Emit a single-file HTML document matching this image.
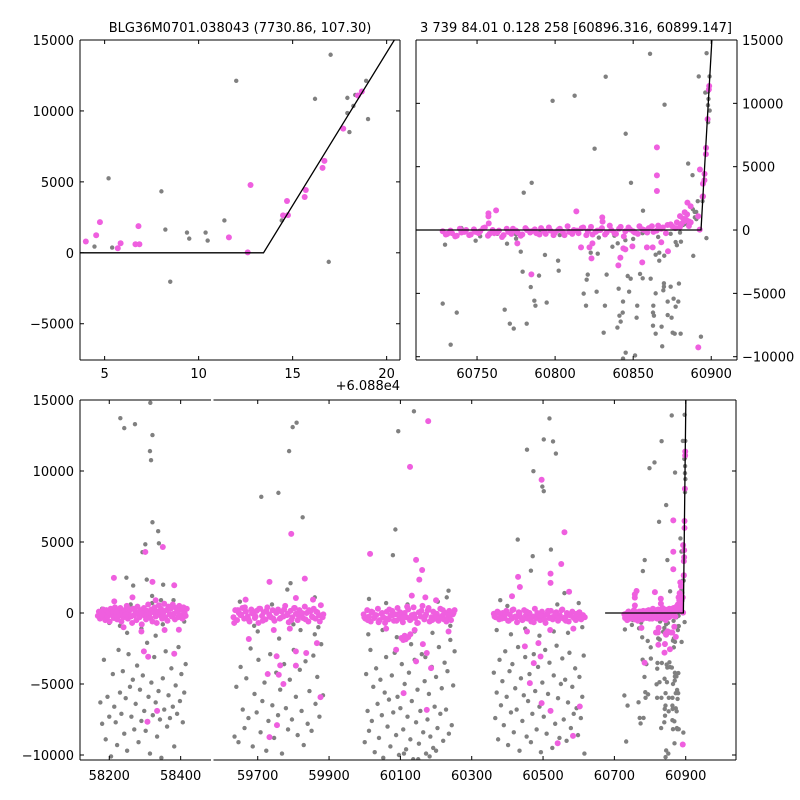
<!DOCTYPE html>
<html><head><meta charset="utf-8"><title>BLG36M0701.038043 light curve</title>
<style>
html,body{margin:0;padding:0;background:#fff;}
svg{display:block;font-family:"DejaVu Sans","Liberation Sans",sans-serif;}
</style></head>
<body>
<svg id="chart" width="800" height="800" viewBox="0 0 800 800">
<rect x="0" y="0" width="800" height="800" fill="#fff"/>
<text x="240" y="32" font-size="13" text-anchor="middle">BLG36M0701.038043 (7730.86, 107.30)</text>
<text x="576" y="32" font-size="13" text-anchor="middle">3 739 84.01 0.128 258 [60896.316, 60899.147]</text>
<text x="400" y="390" font-size="13" text-anchor="end">+6.088e4</text>
</svg>
<script>
// ---------------- data ----------------
const finalGray=[[60884.46,440],[60885.21,5250],[60885.40,370],[60888.02,4330],[60888.23,1640],[60888.49,-2040],[60889.38,1430],[60889.50,1000],[60890.37,1430],[60890.48,860],[60891.37,2280],[60892.0,12120],[60894.42,2280],[60896.19,10850],[60896.92,-640],[60897.02,13960],[60897.91,10920],[60897.91,9850],[60898.02,8510],[60898.23,10350],[60898.33,11130],[60898.91,12120],[60899.01,9430],
[60860.8,13913],[60832.4,12100],[60812.5,10600],[60798.4,10200],[60870.1,9890],[60845.2,7600],[60825.3,6420],[60848.6,3730],[60785,3730],[60779.9,2950],[60856.3,1525],
[60729.5,-1160],[60749.1,-840],[60769.2,-1080],[60775,-680],[60778,-1710],[60793.5,-1970],[60779.2,-3290],[60789.7,-3600],[60801.9,-2420],[60802.3,-3210],[60784.4,-4500],[60728,-5810],[60737,-6520],[60733.1,-9050],[60767.7,-6290],[60771,-7390],[60773.5,-7780],[60781.8,-7390],[60786.7,-5580],[60787.4,-5970],[60794.6,-5730],[60818.3,-5020],[60819.8,-5970],[60820.9,-3520],[60820.2,-3920],[60822.8,-1790],[60827.3,-1870],[60826.6,-4870],[60831.9,-5970],[60833,-3520],[60831.1,-8100],[60836.7,-1320],[60839.9,-7700],[60841.2,-6760],[60842,-7230],[60843.3,-6520],[60843.5,-10150],[60843.5,-5650],[60846.5,-3630],[60847.4,-4870],[60848.4,-3840],[60840.7,-4630],[60840.1,-1050],[60841.6,-2240],[60851.2,-9900],[60852.6,-5970],[60852.2,-6920],[60854.4,-3470],[60856.1,-3810],[60861.2,-3840],[60862.9,-5970],[60862.7,-6520],[60863.3,-6760],[60862.7,-7550],[60864.4,-8180],[60864.4,-5000],[60864.4,-1950],[60866.7,-1790],[60866.7,-2420],[60868.2,-7630],[60868.6,-9180],[60869.3,-4760],[60869.7,-4210],[60869.7,-4470],[60869.9,-2030],[60872.1,-5650],[60872.1,-6710],[60874,-4470],[60874.6,-6920],[60875.3,-8100],[60875.9,-5420],[60876.6,-8180],[60877.2,-6050],[60879.3,-4230],[60878.9,-5650],[60880.4,-8180],[60880.6,-920],[60877.2,-950],[60893.4,-8420],[60845.2,-9680],
[60740,150],[60752,-500],[60763,-300],[60775,-350],[60790,-200],[60803,-400],[60815,-150],[60828,-600],[60838,-450],[60845,-800],[60850,-700],[60856,-250],[60866,-550],[60874,-300],[60880,-200],[60883,700],[60882,400],[60878,-1200]];
const finalMag=[[60884.55,1240],[60884.75,2160],[60885.70,320],[60885.85,670],[60886.64,600],[60886.85,600],[60886.80,1880],[60891.61,1090],[60892.61,30],[60892.76,4780],[60894.49,2640],[60894.70,3650],[60894.75,2660],[60895.64,3930],[60895.70,4430],[60896.59,5990],[60896.69,6480],[60897.69,8750],[60898.47,11090],[60898.68,11370],
[60865.2,6520],[60865.2,4310],[60865.2,3080],[60762.2,1550],[60757.3,1315],[60757.3,1080],[60757.5,525],[60813.6,1470],[60830.2,1000],[60830.4,660],[60775.8,-1050],[60784.8,-3500],[60816.6,-1370],[60822,-1370],[60823.3,-2240],[60823.9,-1050],[60840.5,-2790],[60841.8,-2180],[60843.7,-1450],[60845,-1530],[60849.5,-1290],[60855.8,-2550],[60858.8,-1370],[60862.5,-1370],[60868,-970],[60872.3,-1680],[60891.7,-9260],[60882,900],[60880,1100],[60883,1400]];
const finalBandT=[60728,60731,60734,60737,60740,60743,60746,60749,60752,60755,60758,60761,60764,60767,60770,60773,60776,60779,60782,60785,60788,60791,60794,60797,60800,60803,60806,60809,60812,60815,60818,60821,60824,60827,60830,60833,60836,60839,60842,60845,60848,60851,60854,60857,60860,60863,60866,60869,60872,60875,60878,60881,60884];
const finalBandV=[-100,-300,-250,-450,-200,0,-350,-150,-100,200,-300,-250,-50,-400,-150,100,-200,-350,0,-100,-250,150,-300,-50,-200,100,-400,-150,0,-250,200,-100,-350,-50,150,-200,0,-300,250,-100,50,-200,300,0,150,-150,350,200,400,300,600,500,800];
const finalBand2T=[60730,60733,60736,60739,60742,60745,60748,60751,60754,60757,60760,60763,60766,60769,60772,60775,60778,60781,60784,60787,60790,60793,60796,60799,60802,60805,60808,60811,60814,60817,60820,60823,60826,60829,60832,60835,60838,60841,60844,60847,60850,60853,60856,60859,60862,60865,60868,60871,60874,60877,60880,60883];
const finalBand2V=[-350,-50,-500,100,-150,-400,50,-250,150,-450,0,-200,-550,100,-300,-50,-450,150,-200,50,-350,-100,200,-400,0,-150,300,-300,-50,150,-400,250,-150,0,-350,350,-250,100,-500,200,-100,-300,50,-200,300,-50,100,-250,450,150,250,700];

const c1Gray=[[58315,14800],[58231,13720],[58242,13020],[58272,13300],[58321,12530],[58314,11400],[58317,10760],[58321,6390],[58337,5760],[58339,4910],[58301,4840],[58293,4280],[58248,2490],[58305,2350],[58351,1990],[58267,1930],[58320,1200],[58345,900],
[58175,-6300],[58180,-7800],[58185,-3300],[58190,-8900],[58195,-5900],[58200,-7300],[58205,-10100],[58210,-4300],[58214,-6600],[58218,-7700],[58222,-9300],[58226,-2600],[58230,-5600],[58234,-7100],[58238,-4100],[58242,-8500],[58246,-6000],[58250,-9700],[58254,-2900],[58258,-5200],[58262,-7300],[58266,-4700],[58270,-8200],[58274,-6400],[58278,-3700],[58282,-9100],[58286,-5400],[58290,-7600],[58294,-4400],[58298,-6900],[58302,-8300],[58306,-2100],[58310,-5900],[58314,-9900],[58318,-4900],[58322,-7200],[58326,-3100],[58330,-6300],[58334,-8700],[58338,-5500],[58342,-7500],[58346,-10200],[58350,-4600],[58354,-6800],[58358,-2700],[58362,-8000],[58366,-5800],[58370,-7400],[58374,-3900],[58378,-6600],[58382,-9400],[58386,-5100],[58390,-7100],[58394,-2400],[58398,-6200],[58402,-4300],[58406,-7700],[58410,-5600],[58414,-3600],
[58180,300],[58200,-700],[58230,-900],[58260,600],[58290,-1100],[58320,700],[58350,-800],[58380,900],[58410,-600],[58250,-1400],[58330,-1600]];
const c1Mag=[[58213,2470],[58301,4300],[58350,4650],[58321,2190],[58382,1950],[58214,820],[58297,-2700],[58309,-3080],[58334,-6890],[58307,-7660],[58382,-2870],[58395,-1180],[58240,-1000],[58290,-1300],[58355,-1200],[58265,1100],[58330,900]];
const c1BandT=[58168,58171,58174,58177,58180,58183,58186,58189,58192,58195,58198,58201,58204,58207,58210,58213,58216,58219,58222,58225,58228,58231,58234,58237,58240,58243,58246,58249,58252,58255,58258,58261,58264,58267,58270,58273,58276,58279,58282,58285,58288,58291,58294,58297,58300,58303,58306,58309,58312,58315,58318,58321,58324,58327,58330,58333,58336,58339,58342,58345,58348,58351,58354,58357,58360,58363,58366,58369,58372,58375,58378,58381,58384,58387,58390,58393,58396,58399,58402,58405,58408,58411,58414,58417];
const c1BandV=[-200,100,-400,50,-300,250,-100,-500,200,-250,0,-600,300,-150,100,-350,400,-50,-450,150,-200,350,-600,50,-300,200,-100,500,-400,0,250,-250,-700,300,-150,100,-500,450,-50,-300,200,-800,0,350,-200,-450,150,600,-100,-350,250,-600,50,400,-250,-700,100,550,-150,300,-400,0,650,-300,200,-550,450,-100,300,-250,600,-50,-450,350,100,-300,500,-150,250,-400,400,0,-200,300];

const c2Gray=[[59710,8180],[59758,8460],[59788,11400],[59798,13090],[59809,13400],[59826,6740],[59792,2100],[59783,1650],[59860,1100],[59650,800],
[59635,-8700],[59640,-5200],[59646,-9100],[59652,-3800],[59658,-6800],[59663,-8100],[59668,-4600],[59674,-7400],[59680,-2500],[59686,-9400],[59691,-5700],[59697,-7000],[59702,-3300],[59708,-8400],[59713,-6200],[59719,-4900],[59724,-9700],[59730,-7600],[59735,-2900],[59741,-6500],[59746,-8800],[59752,-4200],[59757,-7200],[59763,-5400],[59768,-9900],[59774,-3600],[59779,-6700],[59785,-8200],[59790,-4700],[59796,-7500],[59801,-2600],[59807,-5900],[59812,-8600],[59818,-4000],[59823,-6900],[59829,-9300],[59834,-3400],[59840,-7800],[59845,-5500],[59851,-8300],[59856,-3000],[59862,-6400],[59867,-4500],[59873,-7300],[59878,-2200],[59883,-5800],[59860,-1500],[59700,-1300],[59760,-1800],[59820,-1200],[59690,-900],[59740,600],[59800,-800],[59870,-1000]];
const c2Mag=[[59733,2190],[59794,5570],[59832,2420],[59666,940],[59807,1060],[59855,940],[59876,-5920],[59754,-7900],[59733,-8740],[59728,-4300],[59759,-4350],[59772,-5000],[59763,-3690],[59753,-3050],[59807,-2700],[59807,-3710],[59836,-2820],[59866,-2120],[59675,-1830],[59745,-1200],[59790,-1100]];
const c2BandT=[59632,59637,59642,59647,59652,59657,59662,59667,59672,59677,59682,59687,59692,59697,59702,59707,59712,59717,59722,59727,59732,59737,59742,59747,59752,59757,59762,59767,59772,59777,59782,59787,59792,59797,59802,59807,59812,59817,59822,59827,59832,59837,59842,59847,59852,59857,59862,59867,59872,59877,59882,59634,59644,59654,59664,59674,59684,59694,59704,59714,59724,59734,59744,59754,59764,59774,59784,59794,59804,59814,59824,59834,59844,59854,59864,59874,59884];
const c2BandV=[-300,200,-500,0,-150,350,-400,100,-250,-600,250,-50,-350,150,-700,300,-200,50,-450,400,-100,-300,200,-550,0,250,-400,100,-250,500,-150,-650,150,-300,350,-50,-500,200,-200,-350,450,0,-600,100,-250,300,-400,50,-150,550,-300,-700,200,-100,400,-450,0,-250,300,-550,150,-200,-400,100,-350,250,-50,-500,350,-150,0,-450,200,-300,100,-600,-100];

const c3Gray=[[60138,14200],[60094,12800],[60079,4070],[60086,5880],[60012,990],[60235,1570],[60230,1100],[60060,700],
[60000,-9100],[60004,-4300],[60008,-6900],[60012,-8300],[60016,-2600],[60020,-7600],[60024,-5200],[60028,-9800],[60032,-3900],[60036,-6400],[60040,-8800],[60044,-4700],[60048,-7200],[60052,-10200],[60056,-5600],[60060,-3100],[60064,-8000],[60068,-6100],[60072,-9400],[60076,-4400],[60080,-7000],[60084,-2800],[60088,-8600],[60092,-5900],[60096,-10000],[60100,-6700],[60104,-3600],[60108,-8200],[60112,-5000],[60116,-9600],[60120,-7300],[60124,-4200],[60128,-8900],[60132,-6200],[60136,-10300],[60140,-3300],[60144,-7700],[60148,-5400],[60152,-9200],[60156,-6900],[60160,-2900],[60164,-8400],[60168,-4800],[60172,-9900],[60176,-7500],[60180,-5700],[60184,-8700],[60188,-3800],[60192,-9500],[60196,-6600],[60200,-4500],[60204,-8100],[60208,-2400],[60212,-7100],[60216,-5300],[60220,-9000],[60224,-3500],[60228,-6800],[60232,-4100],[60236,-8500],[60240,-1900],[60244,-7900],[60248,-5100],[60252,-2700],[60182,-10100],[60150,-10300],[60110,-9900],[60200,-9700],[60170,-3100],[60130,-2200],
[60010,-1500],[60050,-1200],[60090,-1700],[60140,-1300],[60190,-1400],[60240,-900],[60205,800],[60120,600]];
const c3Mag=[[60015,4160],[60127,10290],[60178,13510],[60144,3740],[60161,3030],[60153,2350],[60132,1220],[60088,-2590],[60144,-3410],[60163,-2190],[60174,-2820],[60186,-3880],[60174,-6820],[60109,-5640],[60103,-1760],[60108,-1900],[60115,-1850],[60122,-1700],[60128,-1500],[60112,-1600],[60140,-1200],[60170,1100],[60200,900],[60060,-1100],[60235,-1300]];
const c3BandT=[59997,60002,60007,60012,60017,60022,60027,60032,60037,60042,60047,60052,60057,60062,60067,60072,60077,60082,60087,60092,60097,60102,60107,60112,60117,60122,60127,60132,60137,60142,60147,60152,60157,60162,60167,60172,60177,60182,60187,60192,60197,60202,60207,60212,60217,60222,60227,60232,60237,60242,60247,60252,59999,60009,60019,60029,60039,60049,60059,60069,60079,60089,60099,60109,60119,60129,60139,60149,60159,60169,60179,60189,60199,60209,60219,60229,60239,60249];
const c3BandV=[-100,-400,200,-250,-600,50,-350,-150,300,-500,-50,-300,-700,100,-450,-200,150,-550,-100,350,-400,-250,-650,0,-300,250,-500,-150,400,-350,-700,50,-250,500,-450,-100,200,-600,-300,100,-400,-50,-550,300,-200,-450,0,-350,150,-500,-100,200,-300,-500,100,-200,-650,0,-400,250,-150,-550,50,-300,450,-450,-100,-700,150,-250,350,-500,-50,-350,200,-600,-150,0];

const c4Gray=[[60518,13700],[60502,12220],[60528,12080],[60536,11230],[60455,11500],[60473,9990],[60498,8900],[60502,8580],[60522,4470],[60429,5170],[60471,4000],[60466,2980],[60560,1400],[60380,900],[60600,700],
[60362,-4200],[60366,-7400],[60370,-5600],[60374,-8900],[60378,-3300],[60382,-6500],[60386,-4800],[60390,-7900],[60394,-2700],[60398,-5900],[60402,-9300],[60406,-4100],[60410,-7000],[60414,-3600],[60418,-8400],[60422,-5300],[60426,-6800],[60430,-2400],[60434,-9700],[60438,-4600],[60442,-7600],[60446,-5800],[60450,-3100],[60454,-8700],[60458,-6200],[60462,-4300],[60466,-9100],[60470,-7100],[60474,-2900],[60478,-5500],[60482,-8200],[60486,-3800],[60490,-6600],[60494,-9800],[60498,-4900],[60502,-7300],[60506,-2600],[60510,-8500],[60514,-5700],[60518,-3500],[60522,-6900],[60526,-9500],[60530,-4400],[60534,-7800],[60538,-2300],[60542,-6000],[60546,-8800],[60550,-5000],[60554,-3200],[60558,-7500],[60562,-4700],[60566,-9000],[60570,-6300],[60574,-2800],[60578,-8100],[60582,-5200],[60586,-7100],[60590,-3900],[60594,-6700],[60598,-8600],[60602,-4500],[60606,-7400],[60610,-5900],[60614,-3000],[60616,-9900],
[60370,-1200],[60410,-1500],[60450,-1100],[60490,-1600],[60530,-1300],[60570,-1400],[60610,-1000],[60400,500],[60540,600]];
const c4Mag=[[60496,9380],[60560,5690],[60551,3450],[60521,2770],[60521,2120],[60430,2540],[60435,1830],[60573,1500],[60413,1180],[60474,-3530],[60463,-4940],[60496,-6350],[60521,-6890],[60541,-9170],[60584,-8650],[60603,-6580],[60487,-2120],[60449,-2350],[60493,-3060],[60455,-1300],[60520,-1200],[60585,-1100]];
const c4BandT=[60362,60367,60372,60377,60382,60387,60392,60397,60402,60407,60412,60417,60422,60427,60432,60437,60442,60447,60452,60457,60462,60467,60472,60477,60482,60487,60492,60497,60502,60507,60512,60517,60522,60527,60532,60537,60542,60547,60552,60557,60562,60567,60572,60577,60582,60587,60592,60597,60602,60607,60612,60617,60364,60374,60384,60394,60404,60414,60424,60434,60444,60454,60464,60474,60484,60494,60504,60514,60524,60534,60544,60554,60564,60574,60584,60594,60604,60614];
const c4BandV=[-50,-300,100,-450,-200,0,-350,150,-550,-100,-400,250,-250,-650,50,-300,-500,200,-150,-400,0,-600,-250,300,-350,-100,-500,100,-200,-700,-50,-350,150,-450,-250,50,-550,-150,200,-400,-300,0,-600,-100,100,-350,-500,-200,50,-450,-150,-300,-250,50,-400,-100,-550,200,-300,-50,-450,100,-350,-650,0,-200,-500,150,-300,-100,-400,250,-550,-150,-300,-50];

const modelLine=[[60674,0],[60893.45,0],[60900.41,15000],[60902.5,19500]];
const tlXTicks=[5,10,15,20];
const tlYTicks=[15000,10000,5000,0,-5000];
const trXTicks=[60750,60800,60850,60900];
const trYTicks=[15000,10000,5000,0,-5000,-10000];
const b1XTicks=[58200,58400];
const b2XTicks=[59700,59900,60100,60300,60500,60700,60900];
const bYTicks=[15000,10000,5000,0,-5000,-10000];
const X_OFFSET=60880;

// ---------------- helpers ----------------
const NS='http://www.w3.org/2000/svg';
const svg=document.getElementById('chart');
function el(tag,attrs,parent){const e=document.createElementNS(NS,tag);for(const k in attrs)e.setAttribute(k,attrs[k]);(parent||svg).appendChild(e);return e;}
function sx(ax,t){return ax.x0+(t-ax.t0)/(ax.t1-ax.t0)*(ax.x1-ax.x0);}
function sy(ax,v){return ax.y1-(v-ax.v0)/(ax.v1-ax.v0)*(ax.y1-ax.y0);}
function fmt(v){return v<0?'\u2212'+(-v):String(v);}
const GRAY='#808080', MAG='#ef5fdf';

const defs=el('defs',{});
const axTL={id:'tl',x0:80,x1:400,y0:40,y1:360,t0:60883.69,t1:60900.71,v0:-7556,v1:15000};
const axTR={id:'tr',x0:416,x1:737,y0:40,y1:360,t0:60710.9,t1:60916.5,v0:-10260,v1:15000};
const axB1={id:'b1',x0:80,x1:211,y0:400,y1:760,t0:58118,t1:58485,v0:-10352,v1:15000};
const axB2={id:'b2',x0:213.5,x1:736,y0:400,y1:760,t0:59576,t1:61041,v0:-10352,v1:15000};
[axTL,axTR,axB1,axB2].forEach(ax=>{const cp=el('clipPath',{id:'clip-'+ax.id},defs);el('rect',{x:ax.x0,y:ax.y0,width:ax.x1-ax.x0,height:ax.y1-ax.y0},cp);});

function drawPairs(ax,pairs,color,r,g,name){
  pairs.forEach(p=>{
    const c=el('circle',{cx:sx(ax,p[0]).toFixed(2),cy:sy(ax,p[1]).toFixed(2),r:r,fill:color},g);
    
    
  });
}
function drawTV(ax,ts,vs,color,r,g,name){
  ts.forEach((t,i)=>{
    const c=el('circle',{cx:sx(ax,t).toFixed(2),cy:sy(ax,vs[i]).toFixed(2),r:r,fill:color},g);
    
    
  });
}
function drawModel(ax,g){
  const d=modelLine.map((p,i)=>(i?'L':'M')+sx(ax,p[0]).toFixed(2)+','+sy(ax,p[1]).toFixed(2)).join(' ');
  const pth=el('path',{d:d,fill:'none',stroke:'#000','stroke-width':1.3},g);
  
  
}
function plotGroup(ax,name){
  const g=el('g',{'clip-path':'url(#clip-'+ax.id+')'});
  
  
  return g;
}
function drawSeason(ax,g,gray,mag,bT,bV,bT2,bV2){
  drawPairs(ax,gray,GRAY,2.2,g,'gray-point');
  drawTV(ax,bT,bV,MAG,3,g,'magenta-point');
  if(bT2)drawTV(ax,bT2,bV2,MAG,3,g,'magenta-point');
  drawPairs(ax,mag,MAG,3,g,'magenta-point');
}
function line(x1,y1,x2,y2,name){
  const l=el('line',{x1:x1,y1:y1,x2:x2,y2:y2,stroke:'#000','stroke-width':1});
  
  
  return l;
}
function label(x,y,txt,anchor,name){
  const t=el('text',{x:x,y:y,'font-size':13,'text-anchor':anchor,fill:'#000'});
  t.textContent=txt;
  
  
  return t;
}

// ---------------- top-left ----------------
let g=plotGroup(axTL,'top-left-plot');
drawSeason(axTL,g,finalGray,finalMag,finalBandT,finalBandV,finalBand2T,finalBand2V);
drawModel(axTL,g);
// ---------------- top-right ----------------
g=plotGroup(axTR,'top-right-plot');
drawSeason(axTR,g,finalGray,finalMag,finalBandT,finalBandV,finalBand2T,finalBand2V);
drawModel(axTR,g);
// ---------------- bottom ----------------
g=plotGroup(axB1,'bottom-panel-1-plot');
drawSeason(axB1,g,c1Gray,c1Mag,c1BandT,c1BandV);
g=plotGroup(axB2,'bottom-panel-2-plot');
drawSeason(axB2,g,c2Gray,c2Mag,c2BandT,c2BandV);
drawSeason(axB2,g,c3Gray,c3Mag,c3BandT,c3BandV);
drawSeason(axB2,g,c4Gray,c4Mag,c4BandT,c4BandV);
drawSeason(axB2,g,finalGray,finalMag,finalBandT,finalBandV,finalBand2T,finalBand2V);
drawModel(axB2,g);

// ---------------- axes ----------------
const TL=4;
// top-left frame
line(80,40,400,40,'top-left-top-spine');line(80,360,400,360,'top-left-bottom-spine');
line(80,40,80,360,'top-left-left-spine');line(400,40,400,360,'top-left-right-spine');
tlXTicks.forEach(v=>{const x=sx(axTL,v+X_OFFSET);line(x,360,x,360-TL,'x-tick');line(x,40,x,40+TL,'x-tick');label(x,378,String(v),'middle','x-tick-label');});
tlYTicks.forEach(v=>{const y=sy(axTL,v);line(80,y,80+TL,y,'y-tick');line(400,y,400-TL,y,'y-tick');label(74,y+5,fmt(v),'end','y-tick-label');});
// top-right frame
line(416,40,737,40,'top-right-top-spine');line(416,360,737,360,'top-right-bottom-spine');
line(416,40,416,360,'top-right-left-spine');line(737,40,737,360,'top-right-right-spine');
trXTicks.forEach(v=>{const x=sx(axTR,v);line(x,360,x,360-TL,'x-tick');line(x,40,x,40+TL,'x-tick');label(x,378,String(v),'middle','x-tick-label');});
trYTicks.forEach(v=>{const y=sy(axTR,v);line(416,y,416+TL,y,'y-tick');line(737,y,737-TL,y,'y-tick');label(742,y+5,fmt(v),'start','y-tick-label');});
// bottom frame (broken axis)
line(80,400,211,400,'bottom-panel-1-top-spine');line(80,760,211,760,'bottom-panel-1-bottom-spine');line(80,400,80,760,'bottom-left-spine');
line(213.5,400,736,400,'bottom-panel-2-top-spine');line(213.5,760,736,760,'bottom-panel-2-bottom-spine');line(736,400,736,760,'bottom-right-spine');
b1XTicks.forEach(v=>{const x=sx(axB1,v);line(x,760,x,760-TL,'x-tick');line(x,400,x,400+TL,'x-tick');label(x,780,String(v),'middle','x-tick-label');});
b2XTicks.forEach(v=>{const x=sx(axB2,v);line(x,760,x,760-TL,'x-tick');line(x,400,x,400+TL,'x-tick');label(x,780,String(v),'middle','x-tick-label');});
bYTicks.forEach(v=>{const y=sy(axB1,v);line(80,y,80+TL,y,'y-tick');line(736,y,736-TL,y,'y-tick');label(74,y+5,fmt(v),'end','y-tick-label');});
</script>
</body></html>
